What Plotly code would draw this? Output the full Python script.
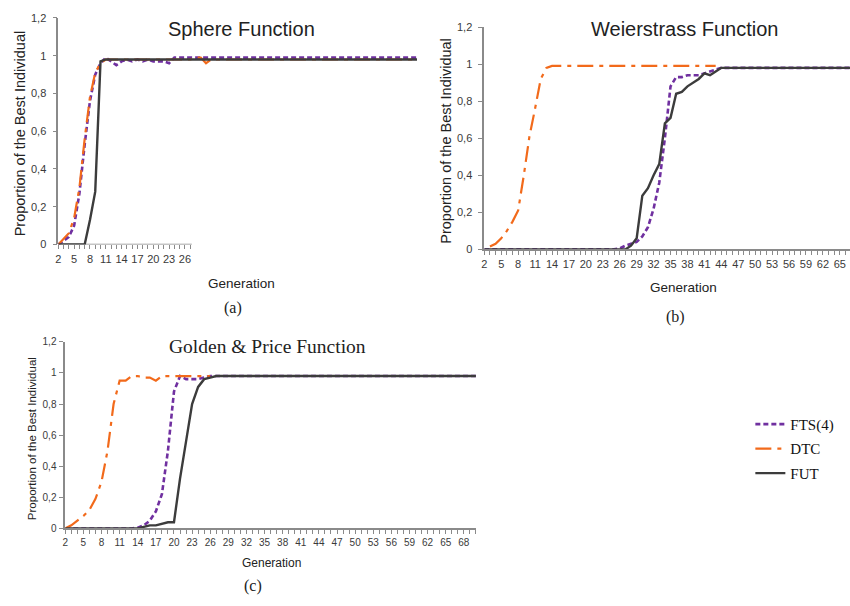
import plotly.graph_objects as go

W, H = 850, 606

# Generation index shared by all three panels
GEN = list(range(2, 71))

Y_TICKS = [0, 0.2, 0.4, 0.6, 0.8, 1.0, 1.2]
Y_TICK_TEXT = ["0", "0,2", "0,4", "0,6", "0,8", "1", "1,2"]

SERIES = ["FTS(4)", "DTC", "FUT"]

# ---- Sphere Function (a) ----
FTS_A = [0, 0.02, 0.04, 0.10, 0.27, 0.53, 0.76, 0.90, 0.96, 0.99,
         0.97, 0.95, 0.97, 0.98, 0.97, 0.98, 0.97, 0.98, 0.97, 0.97,
         0.97, 0.96, 0.99, 0.99, 0.99, 0.99, 0.99, 0.99, 0.99, 0.99,
         0.99, 0.99, 0.99, 0.99, 0.99, 0.99, 0.99, 0.99, 0.99, 0.99,
         0.99, 0.99, 0.99, 0.99, 0.99, 0.99, 0.99, 0.99, 0.99, 0.99,
         0.99, 0.99, 0.99, 0.99, 0.99, 0.99, 0.99, 0.99, 0.99, 0.99,
         0.99, 0.99, 0.99, 0.99, 0.99, 0.99, 0.99, 0.99, 0.99]
DTC_A = [0, 0.03, 0.06, 0.14, 0.30, 0.56, 0.78, 0.91, 0.96, 0.98,
         0.98, 0.98, 0.98, 0.98, 0.98, 0.98, 0.98, 0.98, 0.98, 0.98,
         0.98, 0.98, 0.98, 0.98, 0.98, 0.98, 0.99, 0.99, 0.96, 0.98,
         0.98, 0.98, 0.98, 0.98, 0.98, 0.98, 0.98, 0.98, 0.98, 0.98,
         0.98, 0.98, 0.98, 0.98, 0.98, 0.98, 0.98, 0.98, 0.98, 0.98,
         0.98, 0.98, 0.98, 0.98, 0.98, 0.98, 0.98, 0.98, 0.98, 0.98,
         0.98, 0.98, 0.98, 0.98, 0.98, 0.98, 0.98, 0.98, 0.98]
FUT_A = [0, 0, 0, 0, 0, 0, 0.13, 0.28, 0.97, 0.98,
         0.98, 0.98, 0.98, 0.98, 0.98, 0.98, 0.98, 0.98, 0.98, 0.98,
         0.98, 0.98, 0.98, 0.98, 0.98, 0.98, 0.98, 0.98, 0.98, 0.98,
         0.98, 0.98, 0.98, 0.98, 0.98, 0.98, 0.98, 0.98, 0.98, 0.98,
         0.98, 0.98, 0.98, 0.98, 0.98, 0.98, 0.98, 0.98, 0.98, 0.98,
         0.98, 0.98, 0.98, 0.98, 0.98, 0.98, 0.98, 0.98, 0.98, 0.98,
         0.98, 0.98, 0.98, 0.98, 0.98, 0.98, 0.98, 0.98, 0.98]

# ---- Weierstrass Function (b) ----
FTS_B = [0, 0, 0, 0, 0, 0, 0, 0, 0, 0,
         0, 0, 0, 0, 0, 0, 0, 0, 0, 0,
         0, 0, 0, 0, 0.005, 0.02, 0.03, 0.04, 0.07, 0.12,
         0.22, 0.36, 0.60, 0.88, 0.93, 0.93, 0.94, 0.94, 0.94, 0.95,
         0.96, 0.97, 0.98, 0.98, 0.98, 0.98, 0.98, 0.98, 0.98, 0.98,
         0.98, 0.98, 0.98, 0.98, 0.98, 0.98, 0.98, 0.98, 0.98, 0.98,
         0.98, 0.98, 0.98, 0.98, 0.98, 0.98, 0.98, 0.98, 0.98]
DTC_B = [None, 0.015, 0.03, 0.06, 0.10, 0.15, 0.21, 0.40, 0.61, 0.76,
         0.92, 0.98, 0.99, 0.99, 0.99, 0.99, 0.99, 0.99, 0.99, 0.99,
         0.99, 0.99, 0.99, 0.99, 0.99, 0.99, 0.99, 0.99, 0.99, 0.99,
         0.99, 0.99, 0.99, 0.99, 0.99, 0.99, 0.99, 0.99, 0.99, 0.99,
         0.99, 0.99, None, None, None, None, None, None, None, None,
         None, None, None, None, None, None, None, None, None, None,
         None, None, None, None, None, None, None, None, None]
FUT_B = [0, 0, 0, 0, 0, 0, 0, 0, 0, 0,
         0, 0, 0, 0, 0, 0, 0, 0, 0, 0,
         0, 0, 0, 0, 0, 0, 0.02, 0.06, 0.29, 0.33,
         0.40, 0.46, 0.68, 0.71, 0.84, 0.85, 0.88, 0.90, 0.92, 0.95,
         0.94, 0.96, 0.98, 0.98, 0.98, 0.98, 0.98, 0.98, 0.98, 0.98,
         0.98, 0.98, 0.98, 0.98, 0.98, 0.98, 0.98, 0.98, 0.98, 0.98,
         0.98, 0.98, 0.98, 0.98, 0.98, 0.98, 0.98, 0.98, 0.98]

# ---- Golden & Price Function (c) ----
FTS_C = [0, 0, 0, 0, 0, 0, 0, 0, 0, 0,
         0, 0, 0.005, 0.02, 0.05, 0.11, 0.22, 0.50, 0.88, 0.98,
         0.96, 0.96, 0.96, 0.97, 0.98, 0.98, 0.98, 0.98, 0.98, 0.98,
         0.98, 0.98, 0.98, 0.98, 0.98, 0.98, 0.98, 0.98, 0.98, 0.98,
         0.98, 0.98, 0.98, 0.98, 0.98, 0.98, 0.98, 0.98, 0.98, 0.98,
         0.98, 0.98, 0.98, 0.98, 0.98, 0.98, 0.98, 0.98, 0.98, 0.98,
         0.98, 0.98, 0.98, 0.98, 0.98, 0.98, 0.98, 0.98, 0.98]
DTC_C = [0, 0.02, 0.05, 0.08, 0.12, 0.19, 0.30, 0.50, 0.80, 0.95,
         0.95, 0.98, 0.98, 0.97, 0.97, 0.95, 0.98, 0.98, 0.98, 0.98,
         0.98, 0.98, 0.98, 0.98, 0.98, None, None, None, None, None,
         None, None, None, None, None, None, None, None, None, None,
         None, None, None, None, None, None, None, None, None, None,
         None, None, None, None, None, None, None, None, None, None,
         None, None, None, None, None, None, None, None, None]
FUT_C = [0, 0, 0, 0, 0, 0, 0, 0, 0, 0,
         0, 0, 0, 0.01, 0.02, 0.02, 0.03, 0.04, 0.04, 0.32,
         0.56, 0.80, 0.91, 0.96, 0.97, 0.98, 0.98, 0.98, 0.98, 0.98,
         0.98, 0.98, 0.98, 0.98, 0.98, 0.98, 0.98, 0.98, 0.98, 0.98,
         0.98, 0.98, 0.98, 0.98, 0.98, 0.98, 0.98, 0.98, 0.98, 0.98,
         0.98, 0.98, 0.98, 0.98, 0.98, 0.98, 0.98, 0.98, 0.98, 0.98,
         0.98, 0.98, 0.98, 0.98, 0.98, 0.98, 0.98, 0.98, 0.98]

PANELS = [
    ("x", "y", [FTS_A, DTC_A, FUT_A]),
    ("x2", "y2", [FTS_B, DTC_B, FUT_B]),
    ("x3", "y3", [FTS_C, DTC_C, FUT_C]),
]

STYLES = {
    "FTS(4)": dict(color="#7030A0", width=2.6, dash="5px,3px"),
    "DTC": dict(color="#F26A1B", width=2.2, dash="16px,6px,4px,6px"),
    "FUT": dict(color="#3C3C3C", width=2.4, dash="solid"),
}

SANS = "Liberation Sans, Arial, sans-serif"
SERIF = "Liberation Serif, Times New Roman, serif"
AXIS_GRAY = "#8a8a8a"
TICK_COLOR = "#3a3a3a"


def px_x(p):
    return p / W


def px_y(p):
    return 1 - p / H


fig = go.Figure()

for pi, (xa, ya, data) in enumerate(PANELS):
    for name, values in zip(SERIES, data):
        fig.add_trace(go.Scatter(
            x=GEN, y=values, mode="lines", name=name,
            line=STYLES[name], xaxis=xa, yaxis=ya,
            legendgroup=name, showlegend=(pi == 2),
            connectgaps=False,
        ))


def x_ticks(last):
    vals = [g for g in GEN if g <= last]
    text = [str(g) if (g - 2) % 3 == 0 else "" for g in vals]
    return vals, text


def xaxis_cfg(domain, rng, last_tick, showline=True, size=11):
    vals, text = x_ticks(last_tick)
    return dict(
        domain=domain, range=rng, showgrid=False, zeroline=False,
        showline=showline, linecolor=AXIS_GRAY, linewidth=1.6,
        ticks="outside", ticklen=4, tickwidth=1, tickcolor=AXIS_GRAY,
        tickvals=vals, ticktext=text, tickangle=0,
        tickfont=dict(family=SANS, size=size, color=TICK_COLOR),
    )


def yaxis_cfg(domain, anchor, size=11, standoff=4):
    return dict(
        domain=domain, range=[0, 1.2], anchor=anchor, showgrid=False,
        zeroline=False, showline=True, linecolor=AXIS_GRAY, linewidth=1.6,
        ticks="outside", ticklen=4, tickwidth=1, tickcolor=AXIS_GRAY,
        tickvals=Y_TICKS, ticktext=Y_TICK_TEXT, ticklabelstandoff=standoff,
        tickfont=dict(family=SANS, size=size, color=TICK_COLOR),
    )


fig.update_layout(
    width=W, height=H, margin=dict(l=0, r=0, t=0, b=0),
    paper_bgcolor="white", plot_bgcolor="white",
    xaxis=xaxis_cfg([px_x(55.5), px_x(415.5)], [2, 70], 27, showline=False),
    yaxis=yaxis_cfg([px_y(243.3), px_y(12.2)], "x"),
    xaxis2=dict(xaxis_cfg([px_x(483), 1.0], [2, 66.8], 70), anchor="y2"),
    yaxis2=yaxis_cfg([px_y(248.3), px_y(21.5)], "x2"),
    xaxis3=dict(xaxis_cfg([px_x(62.5), px_x(474.6)], [2, 70], 70, size=10), anchor="y3"),
    yaxis3=yaxis_cfg([px_y(533), px_y(342.6)], "x3", size=10, standoff=1),
    legend=dict(
        x=px_x(750), y=px_y(410), xanchor="left", yanchor="top",
        font=dict(family=SERIF, size=15, color="#111"),
        bgcolor="rgba(0,0,0,0)", itemwidth=30, tracegroupgap=2,
    ),
    showlegend=True,
)

# Sphere panel: x axis line only spans the labelled generations
fig.add_shape(type="line", xref="x", yref="y", x0=2, x1=27.3, y0=0, y1=0,
              line=dict(color=AXIS_GRAY, width=1.6), layer="below")

notes = [
    ("Sphere Function", 239, 23, SANS, 20, 0),
    ("Weierstrass Function", 684, 23, SANS, 20, 0),
    ("Golden & Price Function", 265, 347, SERIF, 19.5, 0),
    ("Proportion of the Best Individual", 17, 130, SANS, 14.5, -90),
    ("Proportion of the Best Individual", 445, 137, SANS, 14.5, -90),
    ("Proportion of the Best Individual", 29, 441, SANS, 11.5, -90),
    ("Generation", 239, 283, SANS, 13.5, 0),
    ("Generation", 683, 287, SANS, 13.5, 0),
    ("Generation", 269, 568, SANS, 12, 0),
    ("(a)", 231, 308, SERIF, 16, 0),
    ("(b)", 675, 317, SERIF, 16, 0),
    ("(c)", 251, 592, SERIF, 16, 0),
]
for text, px, py, fam, size, ang in notes:
    fig.add_annotation(
        text=text, x=px_x(px), y=px_y(py), xref="paper", yref="paper",
        xanchor="center", yanchor="middle", showarrow=False, textangle=ang,
        font=dict(family=fam, size=size, color="#222"),
    )

fig.write_html("out.html")
